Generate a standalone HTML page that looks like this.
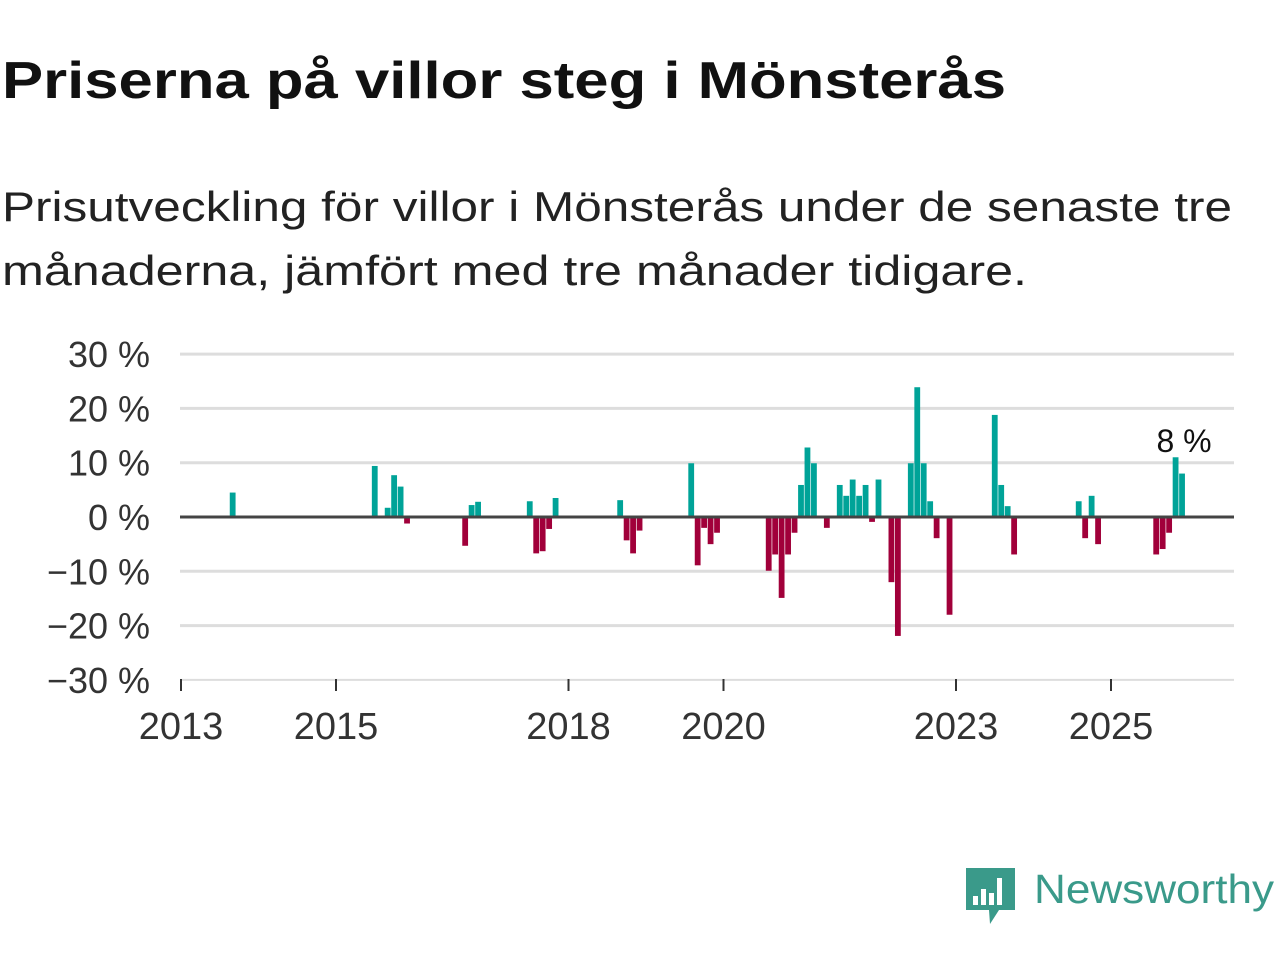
<!DOCTYPE html>
<html><head><meta charset="utf-8"><style>
body{margin:0;background:#fff;}
svg{display:block;font-family:"Liberation Sans",sans-serif;}
</style></head><body>
<svg id="chart" width="1280" height="960">
<text x="2" y="98" font-size="52" font-weight="bold" fill="#111" textLength="1004" lengthAdjust="spacingAndGlyphs">Priserna på villor steg i Mönsterås</text>
<text x="2" y="221" font-size="42" fill="#222" textLength="1230" lengthAdjust="spacingAndGlyphs">Prisutveckling för villor i Mönsterås under de senaste tre</text>
<text x="2" y="285" font-size="42" fill="#222" textLength="1025" lengthAdjust="spacingAndGlyphs">månaderna, jämfört med tre månader tidigare.</text>
<g id="grid"></g><g id="bars"></g><g id="axes"></g>
<g>
<path d="M966 868 h49 v42 h-16 l-9 14 l-1 -14 h-23 z" fill="#3a9a8a"/>
<rect x="973" y="896" width="5" height="9" fill="#fff"/><rect x="981" y="889" width="5" height="16" fill="#fff"/><rect x="989" y="893" width="5" height="12" fill="#fff"/><rect x="997" y="878" width="5" height="27" fill="#fff"/>
<text x="1034" y="903" font-size="41" fill="#3a9a8a" textLength="240" lengthAdjust="spacingAndGlyphs">Newsworthy</text>
</g>
</svg>
<script>
const months=[8,30,32,33,34,35,44,45,46,54,55,56,57,58,68,69,70,71,79,80,81,82,83,91,92,93,94,95,96,97,98,100,102,103,104,105,106,107,108,110,111,113,114,115,116,117,119,126,127,128,129,139,140,141,142,151,152,153,154,155];
const values=[4.5,9.4,1.7,7.7,5.6,-1.2,-5.3,2.2,2.8,2.9,-6.7,-6.3,-2.2,3.5,3.1,-4.3,-6.7,-2.5,9.9,-8.9,-2.0,-5.0,-2.9,-9.9,-6.9,-14.9,-6.9,-2.9,5.9,12.8,9.9,-2.0,5.9,3.9,6.9,3.9,5.9,-0.9,6.9,-12.0,-21.9,9.9,23.9,9.9,2.9,-3.9,-18.0,18.8,5.9,2.0,-6.9,2.9,-3.9,3.9,-5.0,-6.9,-5.9,-2.9,11.0,8.0];
const yTicks=[30,20,10,0,-10,-20,-30];
const yTickLabels=["30 %","20 %","10 %","0 %","\u221210 %","\u221220 %","\u221230 %"];
const xYears=[2013,2015,2018,2020,2023,2025];
const lastLabel="8 %";
const NS="http://www.w3.org/2000/svg";
const x0=181,pxMonth=77.5/12,right=1234;
const xs=m=>x0+m*pxMonth;
const xYear=y=>x0+(y-2013)*77.5;
const ys=v=>517-v*5.43;
function mk(t,a,p){const e=document.createElementNS(NS,t);for(const k in a)e.setAttribute(k,a[k]);p.appendChild(e);return e;}
const grid=document.getElementById('grid'),bars=document.getElementById('bars'),axes=document.getElementById('axes');
yTicks.forEach((v,i)=>{
 if(v!==0&&v!==-30){const l=mk('line',{x1:180,x2:right,y1:ys(v),y2:ys(v),stroke:'#ddd','stroke-width':3},grid);
 
 }
 const t=mk('text',{x:150,y:ys(v)+13,'font-size':36,fill:'#333','text-anchor':'end'},axes);t.textContent=yTickLabels[i];
 
 
});
const bl=mk('line',{x1:180,x2:right,y1:ys(-30),y2:ys(-30),stroke:'#ddd','stroke-width':2},grid);


months.forEach((m,i)=>{const v=values[i];const c=xs(m);
 const r=mk('rect',{x:c-2.9,width:5.8,y:Math.min(ys(v),517),height:Math.abs(ys(v)-517),fill:v>=0?'#00a398':'#a1003a'},bars);
 
 
});
const z=mk('line',{x1:180,x2:right,y1:517,y2:517,stroke:'#444','stroke-width':3},axes);


xYears.forEach(y=>{const x=xYear(y);
 const tk=mk('line',{x1:x,x2:x,y1:679,y2:691,stroke:'#333','stroke-width':2},axes);
 
 
 const t=mk('text',{x:x,y:739,'font-size':38,fill:'#333','text-anchor':'middle'},axes);t.textContent=y;
 
 
});
const lt=mk('text',{x:xs(months[months.length-1])+2,y:452,'font-size':32,fill:'#111','text-anchor':'middle'},axes);lt.textContent=lastLabel;


</script>
</body></html>
